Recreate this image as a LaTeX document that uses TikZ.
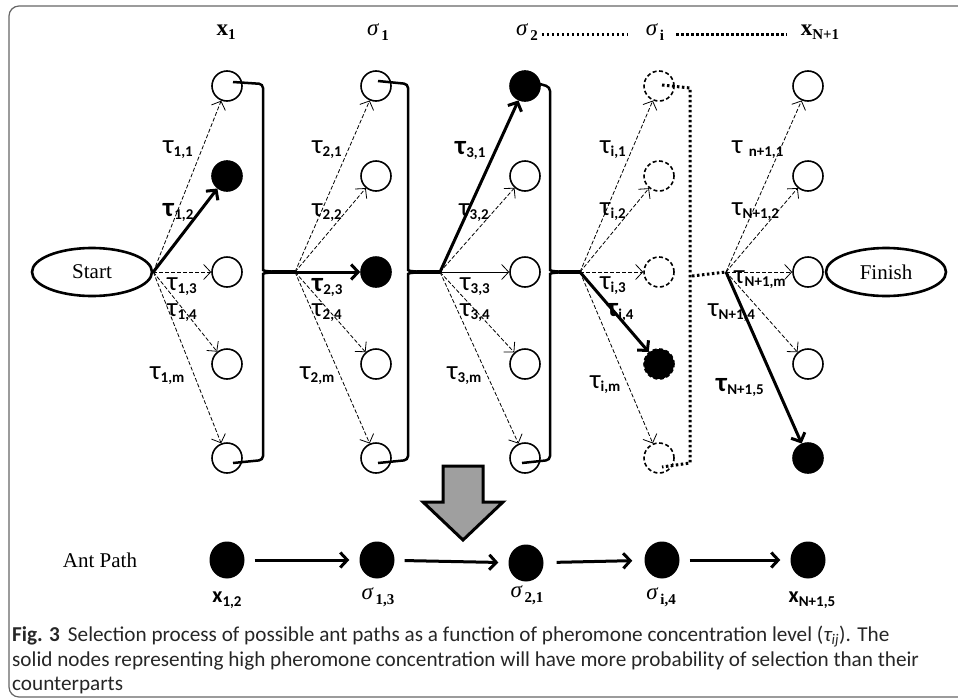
\documentclass[tikz,border=0pt]{standalone}
\usepackage{fontspec}
\setmainfont{Liberation Serif}
\newfontfamily\calibri{Carlito}
\usetikzlibrary{arrows.meta,calc,shapes.geometric}

\newcommand{\taul}[1]{τ\raisebox{-3pt}{\fontsize{15}{15}\selectfont\bfseries #1}}
\newcommand{\taub}[1]{\textbf{τ}\raisebox{-3pt}{\fontsize{15}{15}\selectfont\bfseries #1}}
\newcommand{\topx}[1]{\textbf{x}\raisebox{-4pt}{\fontsize{15}{15}\selectfont\bfseries #1}}
\newcommand{\tops}[1]{\textit{σ}\hspace{2pt}\raisebox{-5pt}{\fontsize{15}{15}\selectfont\bfseries #1}}
\newcommand{\botx}[1]{{\calibri\fontsize{22}{22}\selectfont\bfseries x\raisebox{-4pt}{\fontsize{15}{15}\selectfont #1}}}

\begin{document}
\begin{tikzpicture}
		[x=1pt,y=-1pt,
		opennode/.style={circle, draw, line width=1.6pt, minimum size=30pt, inner sep=0pt},
		fullnode/.style={opennode, fill=black},
		ghostnode/.style={opennode, dash pattern=on 4pt off 2.5pt},
		endnode/.style={ellipse, draw, line width=2.6pt, minimum width=120pt, minimum height=48pt, font=\fontsize{21}{21}\selectfont},
		pathnode/.style={ellipse, fill=black, minimum width=35pt, minimum height=37pt, inner sep=0pt},
		choice/.style={-{Straight Barb[length=7pt,width=15pt]}, line width=0.8pt, dash pattern=on 4pt off 2pt},
		pick/.style={-{Straight Barb[length=7pt,width=15pt,line width=3pt]}, line width=3pt},
		brace/.style={line width=2.5pt, rounded corners=4pt},
		tlabel/.style={font=\calibri\fontsize{27}{27}\selectfont, anchor=west, inner sep=0pt},
		toplabel/.style={font=\fontsize{23}{23}\selectfont, inner sep=0pt},
		dots/.style={line width=3pt, dash pattern=on 2.5pt off 2.5pt},
		]
		\useasboundingbox (0,0) rectangle (958,699);
		\draw[black!60, line width=1.2pt, rounded corners=10pt] (975,6) -- (9,6) -- (9,697) -- (975,697);
		
		%Nodes
		\node[endnode](start) at (92,272) {Start};
		\node[endnode](finish) at (886,272) {Finish};
		
		\node[opennode](c11) at (227,86) {};
		\node[fullnode](c12) at (227,176) {};
		\node[opennode](c13) at (227,272) {};
		\node[opennode](c14) at (227,364) {};
		\node[opennode](c15) at (227,458) {};
		
		\node[opennode](c21) at (376,86) {};
		\node[opennode](c22) at (376,176) {};
		\node[fullnode](c23) at (376,272) {};
		\node[opennode](c24) at (376,364) {};
		\node[opennode](c25) at (376,458) {};
		
		\node[fullnode](c31) at (525,86) {};
		\node[opennode](c32) at (525,176) {};
		\node[opennode](c33) at (525,272) {};
		\node[opennode](c34) at (525,364) {};
		\node[opennode](c35) at (525,458) {};
		
		\node[ghostnode](c41) at (659,86) {};
		\node[ghostnode](c42) at (659,176) {};
		\node[ghostnode](c43) at (659,272) {};
		\node[ghostnode, fill=black](c44) at (659,364) {};
		\node[ghostnode](c45) at (659,458) {};
		
		\node[opennode](c51) at (808,86) {};
		\node[opennode](c52) at (808,176) {};
		\node[opennode](c53) at (808,272) {};
		\node[opennode](c54) at (808,364) {};
		\node[fullnode](c55) at (808,458) {};
		
		\coordinate (j1) at (295,272);
		\coordinate (j2) at (440,272);
		\coordinate (j3) at (580,272);
		\coordinate (j4) at (726,272);
		
		%Column labels
		\node[toplabel](lx1) at (226,32) {\topx{1}};
		\node[toplabel](ls1) at (378,32) {\tops{1}};
		\node[toplabel](ls2) at (527,32) {\tops{2}};
		\node[toplabel](lsi) at (655,32) {\tops{i}};
		\node[toplabel](lxn) at (820,32) {\topx{N+1}};
		\draw[dots] (ls2.east) ++(4,2.5) -- ([shift={(-18,2.5)}]lsi.west);
		\draw[dots] (lsi.east) ++(12,2.5) -- ([shift={(-14,2.5)}]lxn.west);
		
		%Lines
		\draw[choice] (start.east) -- (c11);
		\draw[pick] (start.east) -- (c12);
		\draw[choice] (start.east) -- (c13);
		\draw[choice] (start.east) -- (c14);
		\draw[choice] (start.east) -- (c15);
		
		\draw[choice] (j1) -- (c21);
		\draw[choice] (j1) -- (c22);
		\draw[pick] (j1) -- (c23);
		\draw[choice] (j1) -- (c24);
		\draw[choice] (j1) -- (c25);
		
		\draw[pick] (j2) -- (c31);
		\draw[choice] (j2) -- (c32);
		\draw[-{Straight Barb[length=7pt,width=15pt]}, line width=0.8pt] (j2) -- (c33);
		\draw[choice] (j2) -- (c34);
		\draw[choice] (j2) -- (c35);
		
		\draw[choice] (j3) -- (c41);
		\draw[choice] (j3) -- (c42);
		\draw[choice] (j3) -- (c43);
		\draw[pick] (j3) -- (c44);
		\draw[choice] (j3) -- (c45);
		
		\draw[choice] (j4) -- (c51);
		\draw[choice] (j4) -- (c52);
		\draw[choice] (j4) -- (c53);
		\draw[choice] (j4) -- (c54);
		\draw[pick] (j4) -- (c55);
		
		%Braces
		\draw[brace] ([shift={(6,-4)}]c11.center) -- (263,84) -- (263,266) .. controls (263,271) and (270,272) .. (j1);
		\draw[brace] ([shift={(6,5)}]c15.center) -- (263,460) -- (263,278) .. controls (263,273) and (270,272) .. (j1);
		\draw[line width=4pt] (272,272) -- (j1);
		\draw[brace] ([shift={(2,-5)}]c21.center) -- (408,84) -- (408,266) .. controls (408,271) and (415,272) .. (j2);
		\draw[brace] ([shift={(2,5)}]c25.center) -- (408,460) -- (408,278) .. controls (408,273) and (415,272) .. (j2);
		\draw[line width=4pt] (417,272) -- (j2);
		\draw[brace] ([shift={(15,-2)}]c31.center) -- (550,87) -- (550,266) .. controls (550,271) and (557,272) .. (j3);
		\draw[brace] ([shift={(-3,5)}]c35.center) -- (550,460) -- (550,278) .. controls (550,273) and (557,272) .. (j3);
		\draw[line width=4pt] (559,272) -- (j3);
		\draw[dots] ([shift={(3,-1)}]c41.center) -- (690,88) -- (690,463) -- ([shift={(3,9)}]c45.center);
		\draw[dots] (692,276) -- (j4);
		
		%Tau labels
		\node[tlabel](t11) at (163,150) {\taul{1,1}};
		\node[tlabel](t12) at (163,212) {\taub{1,2}};
		\node[tlabel](t13) at (167,287) {\taul{1,3}};
		\node[tlabel](t14) at (167,313) {\taul{1,4}};
		\node[tlabel](t1m) at (150,376) {\taul{1,m}};
		\node[tlabel](t21) at (312,150) {\taul{2,1}};
		\node[tlabel](t22) at (312,213) {\taul{2,2}};
		\node[tlabel](t23) at (312,287) {\taub{2,3}};
		\node[tlabel](t24) at (312,313) {\taul{2,4}};
		\node[tlabel](t2m) at (300,376) {\taul{2,m}};
		\node[tlabel](t31) at (455,150) {\taub{3,1}};
		\node[tlabel](t32) at (459,213) {\taul{3,2}};
		\node[tlabel](t33) at (460,287) {\taul{3,3}};
		\node[tlabel](t34) at (460,313) {\taul{3,4}};
		\node[tlabel](t3m) at (447,376) {\taul{3,m}};
		\node[tlabel](ti1) at (600,150) {\taul{i,1}};
		\node[tlabel](ti2) at (600,212) {\taul{i,2}};
		\node[tlabel](ti3) at (600,286) {\taul{i,3}};
		\node[tlabel](ti4) at (607,312) {\taub{i,4}};
		\node[tlabel](tim) at (590,385) {\taul{i,m}};
		\node[tlabel](tn1) at (732,150) {τ \raisebox{-3pt}{\fontsize{15}{15}\selectfont\bfseries n+1,1}};
		\node[tlabel](tn2) at (732,212) {\taul{N+1,2}};
		\node[tlabel](tnm) at (734,280) {\taul{N+1,m}};
		\node[tlabel](tn4) at (708,313) {\taul{N+1,4}};
		\node[tlabel](tn5) at (716,387) {\taub{N+1,5}};
		
		%Down arrow
		\draw[fill=gray!75, line width=3pt] (443,466) -- (483,466) -- (483,502) -- (503,502) -- (463,540) -- (423,502) -- (443,502) -- cycle;
		
		%Ant path
		\node[font=\fontsize{21}{21}\selectfont](antpath) at (100,560) {Ant Path};
		\node[pathnode](a1) at (227,560) {};
		\node[pathnode](a2) at (377,560) {};
		\node[pathnode](a3) at (526,563) {};
		\node[pathnode](a4) at (662,560) {};
		\node[pathnode](a5) at (808,560) {};
		\draw[pick, shorten <=10pt, shorten >=10pt] (a1) -- (a2);
		\draw[pick, shorten <=10pt, shorten >=10pt] (a2) -- (a3);
		\draw[pick, shorten <=13pt, shorten >=12pt] (a3) -- (a4);
		\draw[pick, shorten <=10pt, shorten >=10pt] (a4) -- (a5);
		\node[inner sep=0pt](p1) at (227,600) {\botx{1,2}};
		\node[toplabel](p2) at (378,597) {\tops{1,3}};
		\node[toplabel](p3) at (527,595) {\tops{2,1}};
		\node[toplabel](p4) at (661,597) {\tops{i,4}};
		\node[inner sep=0pt](p5) at (812,600) {\botx{N+1,5}};
		
		%Caption
		\node[anchor=north west, inner sep=0pt, align=left, text=black!85,
			font=\calibri\fontsize{21.2}{24.5}\selectfont](caption) at (12,626)
			{\textbf{Fig. 3}\hspace{8pt}Selection process of possible ant paths as a function of pheromone concentration level ({\itshape τ\textsubscript{ij}}). The\\
			solid nodes representing high pheromone concentration will have more probability of selection than their\\
			counterparts};
\end{tikzpicture}
\end{document}
